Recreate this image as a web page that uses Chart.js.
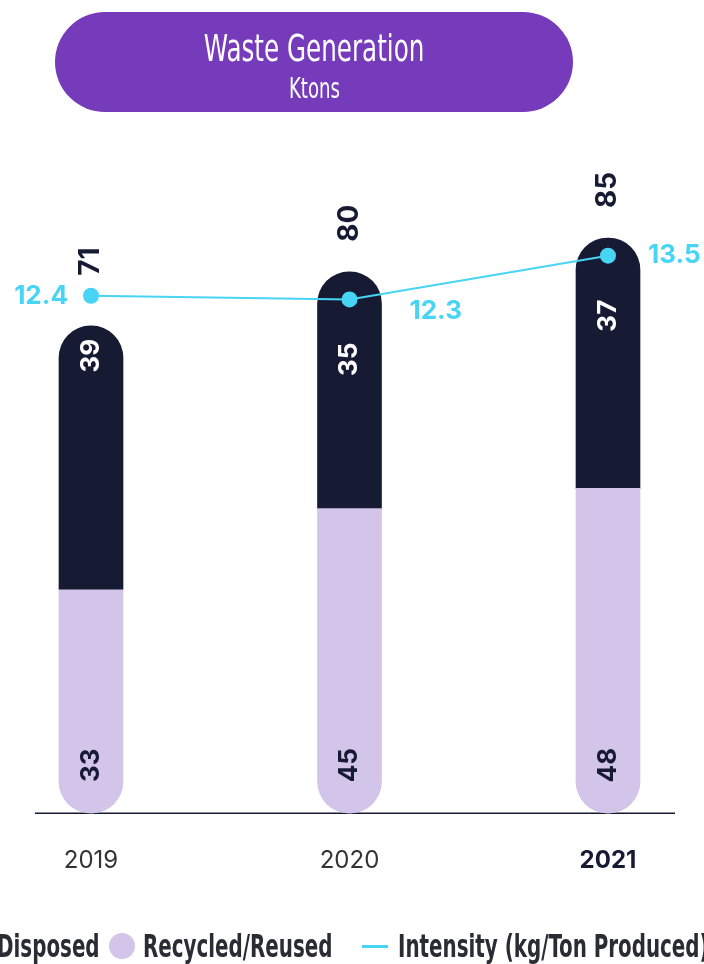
<!DOCTYPE html>
<html>
<head>
<meta charset="utf-8">
<script src="https://cdn.jsdelivr.net/npm/chart.js@4"></script>
<style>
  html, body { margin:0; padding:0; background:#fff; width:704px; height:964px; overflow:hidden; }
  #wrap { position:relative; width:704px; height:964px; overflow:hidden; }
  #c { position:absolute; left:0; top:0; }
  .cond { font-family: "Liberation Sans Narrow", "DejaVu Sans Condensed", "Roboto Condensed", sans-serif; font-stretch: condensed; }
  #title { position:absolute; left:55px; top:12px; width:518px; height:100px; border-radius:50px; background:#763bba; color:#fff; text-align:center; }
  #t1 { position:absolute; left:0; right:0; top:14px; font-size:38px; line-height:44px; }
  #t2 { position:absolute; left:0; right:0; top:61px; font-size:28px; line-height:32px; }
  #t1 span, #t2 span { display:inline-block; transform:scaleX(0.72); transform-origin:center; }
  .leg { position:absolute; top:928px; height:36px; display:flex; align-items:center; white-space:nowrap; font-size:32px; font-weight:bold; color:#2b2b33; }
  .leg .txt { display:inline-block; transform:scaleX(0.69); }
  .dot { display:inline-block; width:26px; height:26px; border-radius:50%; margin-right:8px; flex:none; }
  .ln { display:inline-block; width:26px; height:3px; margin-right:10px; flex:none; }
</style>
</head>
<body>
<div id="wrap">
  <canvas id="c" width="704" height="964"></canvas>
  <div id="title" class="cond"><div id="t1"><span>Waste Generation</span></div><div id="t2"><span>Ktons</span></div></div>
  <div id="legend"></div>
</div>
<script>
const years = ["2019", "2020", "2021"];
const recycled = [33, 45, 48];
const disposed = [39, 35, 37];
const totals = [71, 80, 85];
const intensity = [12.4, 12.3, 13.5];
const seriesNames = ["Disposed", "Recycled/Reused", "Intensity (kg/Ton Produced)"];

const DARK = "#161a33", LIGHT = "#d3c4ea", CYAN = "#47d4f5";
const NUM_FONT = "Inter, Lato, sans-serif";

const labelPlugin = {
  id: "labels",
  beforeDatasetsDraw(chart) {
    const ctx = chart.ctx, y0 = chart.scales.y.getPixelForValue(0);
    ctx.save();
    ctx.strokeStyle = DARK; ctx.lineWidth = 1.5;
    ctx.beginPath(); ctx.moveTo(35, y0); ctx.lineTo(675, y0); ctx.stroke();
    ctx.restore();
  },
  afterDatasetsDraw(chart) {
    const ctx = chart.ctx;
    const y0 = chart.scales.y.getPixelForValue(0);
    const recMeta = chart.getDatasetMeta(1), disMeta = chart.getDatasetMeta(2), lineMeta = chart.getDatasetMeta(0);
    const rot = (txt, x, y, font, color, align) => {
      ctx.save(); ctx.translate(x, y); ctx.rotate(-Math.PI / 2);
      ctx.font = font; ctx.fillStyle = color; ctx.textAlign = align; ctx.textBaseline = "middle";
      ctx.fillText(txt, 0, 0); ctx.restore();
    };
    years.forEach((yr, i) => {
      const r = recMeta.data[i], d = disMeta.data[i], p = lineMeta.data[i];
      rot(String(recycled[i]), r.x, y0 - 48, "bold 26px " + NUM_FONT, DARK, "center");
      rot(String(disposed[i]), d.x, p.y + 60, "bold 26px " + NUM_FONT, "#ffffff", "center");
      const top = d.y;
      const bottom = Math.min(top - 30, p.y - 20);
      rot(String(totals[i]), d.x, bottom, "bold 28px " + NUM_FONT, DARK, "left");
      ctx.save();
      ctx.font = "bold 26px " + NUM_FONT; ctx.fillStyle = CYAN; ctx.textBaseline = "middle";
      if (i === 0) { ctx.textAlign = "right"; ctx.fillText(intensity[i].toFixed(1), p.x - 23, p.y); }
      else if (i === years.length - 1) { ctx.textAlign = "left"; ctx.fillText(intensity[i].toFixed(1), p.x + 40, p.y); }
      else { ctx.textAlign = "left"; ctx.fillText(intensity[i].toFixed(1), p.x + 60, p.y + 12); }
      ctx.restore();
    });
  }
};

new Chart(document.getElementById("c"), {
  type: "bar",
  data: {
    labels: years,
    datasets: [
      { type: "line", label: seriesNames[2], data: intensity, yAxisID: "y2", order: 0,
        borderColor: CYAN, backgroundColor: CYAN, borderWidth: 2, pointRadius: 8,
        pointBackgroundColor: CYAN, pointBorderWidth: 0, clip: false },
      { label: seriesNames[1], data: recycled, yAxisID: "y", order: 1, stack: "s",
        backgroundColor: LIGHT, barThickness: 64, borderSkipped: false, clip: false,
        borderRadius: { topLeft: 0, topRight: 0, bottomLeft: 32, bottomRight: 32 } },
      { label: seriesNames[0], data: disposed, yAxisID: "y", order: 1, stack: "s",
        backgroundColor: DARK, barThickness: 64, borderSkipped: false, clip: false,
        borderRadius: { topLeft: 32, topRight: 32, bottomLeft: 0, bottomRight: 0 } }
    ]
  },
  options: {
    responsive: false, animation: false, devicePixelRatio: 1,
    layout: { padding: { left: 91, right: 96, top: 150, bottom: 56 } },
    plugins: { legend: { display: false }, tooltip: { enabled: false } },
    scales: {
      x: { type: "category", offset: false, stacked: true,
           grid: { display: false, drawTicks: false }, border: { display: false },
           ticks: { padding: 33, color: (c) => c.index === 2 ? DARK : "#333333",
                    font: (c) => ({ family: NUM_FONT, size: 24, weight: c.index === 2 ? "bold" : "normal" }) } },
      y: { display: false, stacked: true, min: 0, max: 98 },
      y2: { display: false, min: -1.8, max: 16.4 }
    }
  },
  plugins: [labelPlugin]
});

// HTML legend built from series names
const legend = document.getElementById("legend");
const items = [
  { name: seriesNames[0], marker: '<span class="dot" style="background:' + DARK + '"></span>', style: "right:604px", origin: "right center" },
  { name: seriesNames[1], marker: '<span class="dot" style="background:' + LIGHT + '"></span>', style: "left:109px", origin: "left center" },
  { name: seriesNames[2], marker: '<span class="ln" style="background:' + CYAN + '"></span>', style: "left:362px", origin: "left center" }
];
items.forEach(it => {
  const d = document.createElement("div");
  d.className = "leg cond"; d.setAttribute("style", it.style);
  d.innerHTML = it.marker + '<span class="txt" style="transform-origin:' + it.origin + '">' + it.name + "</span>";
  legend.appendChild(d);
});
</script>
</body>
</html>
